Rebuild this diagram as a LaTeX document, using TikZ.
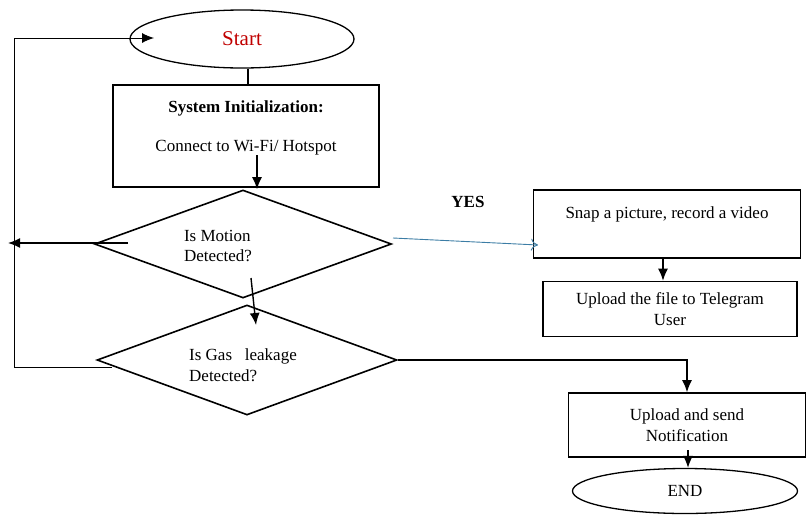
\documentclass[tikz,border=0pt]{standalone}
\usepackage{fontspec}
\setmainfont{Liberation Serif}
\usetikzlibrary{arrows.meta,shapes.geometric}
\definecolor{startred}{RGB}{192,0,0}
\definecolor{yesblue}{RGB}{60,125,165}
\tikzset{
    block/.style = {draw, rectangle, line width=1.6pt, align=center},
    decision/.style = {draw, diamond, line width=1.6pt, inner sep=0pt},
    terminal/.style = {draw, ellipse, line width=1.3pt},
    txt/.style = {align=center, inner sep=0pt},
    arrow/.style = {-{Latex[length=12pt,width=10pt]}, line width=1.4pt},
    loopline/.style = {line width=0.9pt}
}
\begin{document}
\begin{tikzpicture}[x=1pt, y=-1pt, font=\fontsize{17}{20.5}\selectfont]
                \useasboundingbox (0,0) rectangle (806,515);
                % terminals and boxes
                \node[terminal, minimum width=224, minimum height=58] (start) at (242,39) {\fontsize{21}{24}\selectfont\textcolor{startred}{Start}};
                \node[block, minimum width=266, minimum height=102] (init) at (246,136) {};
                \node[txt] (inittxt) at (246,128) {\textbf{System Initialization:}\\[19pt]Connect to Wi-Fi/ Hotspot};
                \node[decision, minimum width=297, minimum height=108] (motion) at (243,244) {};
                \node[txt, align=left] (motiontxt) at (218,246) {Is Motion\\Detected?};
                \node[decision, minimum width=300, minimum height=110] (gas) at (247,360) {};
                \node[txt, align=left] (gastxt) at (243,365) {Is Gas\ \ \ leakage\\Detected?};
                \node[block, minimum width=267, minimum height=68] (snap) at (667,224) {};
                \node[txt] (snaptxt) at (667,214) {Snap a picture,\ record a video};
                \node[block, minimum width=254, minimum height=55] (upload) at (670,309) {Upload the file to Telegram\\User};
                \node[block, minimum width=237, minimum height=64] (notify) at (687,425) {Upload and send\\Notification};
                \node[terminal, minimum width=225, minimum height=45] (finish) at (685,491) {END};
                \node[font=\fontsize{17}{20}\selectfont\bfseries] (yes) at (468,202) {YES};
                % helper points
                \coordinate (initin) at (257,155);
                \coordinate (motionin) at (128,243);
                \coordinate (motionout) at (251,278);
                \coordinate (gasin) at (256,325);
                \coordinate (gasleft) at (112,367);
                \coordinate (loopbot) at (14,367);
                \coordinate (loopmid) at (8,243);
                \coordinate (looptop) at (14,38);
                \coordinate (startin) at (154,38);
                \coordinate (yesfrom) at (393,238);
                \coordinate (yesto) at (538,245);
                \coordinate (notifyin) at (688,450);
                % connectors
                \draw [line width=1.4pt] (start.south -| 248,0) -- (init.north -| 248,0);
                \draw [arrow] (initin) -- (motion.north -| initin);
                \draw [arrow] (motionout) -- (gasin);
                \draw [arrow] (motionin) -- (loopmid);
                \draw [loopline] (gasleft) -- (loopbot) -- (looptop);
                \draw [loopline, -{Latex[length=12pt,width=10pt]}] (looptop) -- (startin);
                \draw [yesblue, line width=0.9pt, -{To[length=7pt,width=12pt]}] (yesfrom) -- (yesto);
                \draw [arrow] (snap.south -| 663,0) -- (upload.north -| 663,0);
                \draw [arrow] (gas.east) -- (gas.east -| notify.north) -- (notify.north);
                \draw [arrow] (notifyin) -- (finish.north -| notifyin);
            \end{tikzpicture}
\end{document}
